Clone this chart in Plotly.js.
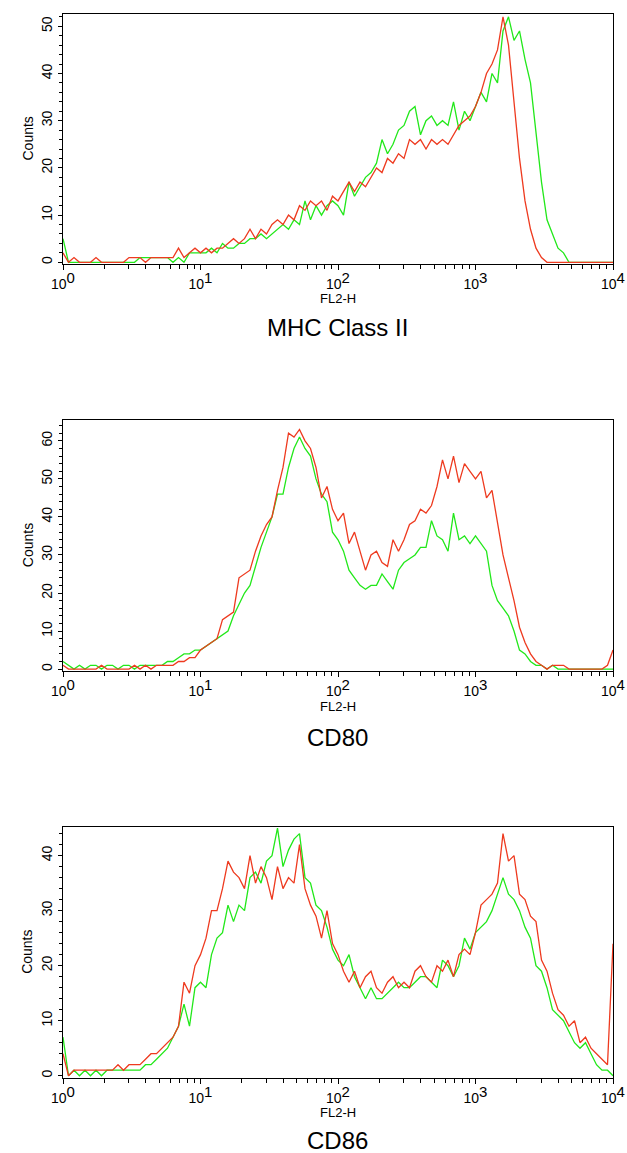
<!DOCTYPE html>
<html>
<head>
<meta charset="utf-8">
<script src="https://cdn.plot.ly/plotly-3.0.1.min.js"></script>
<style>
  html, body { margin: 0; padding: 0; background: #ffffff; }
  #chart { width: 627px; height: 1153px; }
</style>
</head>
<body>
<div id="chart"></div>
<script>
// FL2-H channel positions (log10 of fluorescence, decades 0..4)
const channelLog = [
  0,0.04,0.08,0.12,0.16,0.2,0.24,0.28,0.32,0.36,
  0.4,0.44,0.48,0.52,0.56,0.6,0.64,0.68,0.72,0.76,
  0.8,0.84,0.88,0.92,0.96,1,1.04,1.08,1.12,1.16,
  1.2,1.24,1.28,1.32,1.36,1.4,1.44,1.48,1.52,1.56,
  1.6,1.64,1.68,1.72,1.76,1.8,1.84,1.88,1.92,1.96,
  2,2.04,2.08,2.12,2.16,2.2,2.24,2.28,2.32,2.36,
  2.4,2.44,2.48,2.52,2.56,2.6,2.64,2.68,2.72,2.76,
  2.8,2.84,2.88,2.92,2.96,3,3.04,3.08,3.12,3.16,
  3.2,3.24,3.28,3.32,3.36,3.4,3.44,3.48,3.52,3.56,
  3.6,3.64,3.68,3.72,3.76,3.8,3.84,3.88,3.92,3.96,
  4
];

const panelTitles = ["MHC Class II", "CD80", "CD86"];
const xTickVals = [1, 10, 100, 1000, 10000];
const xTickExp = ["0", "1", "2", "3", "4"];
const xMinorVals = [2,3,4,5,6,7,8,9,20,30,40,50,60,70,80,90,200,300,400,500,600,700,800,900,2000,3000,4000,5000,6000,7000,8000,9000];

// MHC Class II
const mhcRed = [
  2,0,1,0,0,0,1,0,0,0,
  0,0,1,1,1,0,1,1,1,1,
  1,3,1,2,3,2,3,2,3,3,
  4,5,4,5,7,5,7,6,8,9,
  8,10,9,12,11,13,12,13,11,14,
  13,15,17,15,17,16,18,20,19,22,
  21,23,22,26,25,26,24,26,25,26,
  25,27,29,30,31,33,36,40,42,45,
  52,46,34,22,13,7,3,1,0,0,
  0,0,0,0,0,0,0,0,0,0,
  0
];
const mhcGreen = [
  5,0,0,0,0,0,0,0,0,0,
  0,0,0,0,1,1,1,1,1,1,
  0,1,0,2,2,2,2,3,2,4,
  3,3,4,4,5,5,6,5,6,7,
  8,7,9,8,13,9,12,10,12,13,
  12,10,17,14,16,18,19,21,26,23,
  25,28,29,32,33,27,30,31,29,30,
  29,34,28,32,30,33,36,34,40,38,
  49,52,47,49,43,38,28,17,9,6,
  3,2,0,0,0,0,0,0,0,0,
  0
];

// CD80
const cd80Red = [
  1,0,0,0,0,0,0,1,0,0,
  0,0,0,1,0,1,0,1,1,1,
  1,2,2,3,3,5,6,7,8,13,
  14,15,24,25,26,31,35,38,40,47,
  53,62,61,63,60,58,53,45,48,42,
  39,41,33,36,31,26,30,31,28,27,
  34,31,34,38,39,42,41,43,48,55,
  50,56,49,54,52,50,52,45,47,38,
  30,24,18,11,7,4,2,1,0,1,
  1,1,0,0,0,0,0,0,0,1,
  5
];
const cd80Green = [
  2,1,0,1,0,1,1,0,1,1,
  0,1,1,0,1,1,1,1,1,2,
  2,3,4,4,5,5,6,7,8,9,
  10,14,17,20,22,27,32,36,40,46,
  46,53,58,61,58,56,50,46,44,36,
  34,31,26,24,22,21,22,22,25,23,
  21,26,28,29,30,32,32,39,35,34,
  31,41,34,35,33,35,33,31,22,18,
  16,14,10,5,4,2,1,1,0,1,
  0,0,0,0,0,0,0,0,0,0,
  0
];

// CD86
const cd86Red = [
  4,0,1,1,1,1,1,1,1,1,
  2,1,2,2,2,3,4,4,5,6,
  7,9,17,15,20,22,25,30,30,34,
  39,37,36,34,40,35,38,36,32,38,
  34,36,35,42,34,31,29,25,30,24,
  22,19,17,19,16,18,19,16,15,17,
  18,16,17,16,19,20,18,17,20,19,
  21,18,22,23,22,26,31,32,33,35,
  44,39,40,33,32,29,28,21,19,15,
  12,11,9,10,6,7,5,4,3,2,
  24
];
const cd86Green = [
  7,0,1,0,1,0,1,0,1,1,
  1,1,1,1,1,2,2,3,4,5,
  7,9,13,9,16,17,16,22,25,26,
  31,28,31,30,36,37,35,39,40,45,
  38,41,43,44,36,35,31,30,27,23,
  21,20,22,18,16,14,16,14,14,15,
  16,17,16,16,17,18,18,17,16,21,
  20,18,20,25,23,26,27,28,30,33,
  36,33,32,30,27,25,20,19,16,12,
  11,10,8,6,5,6,4,2,1,1,
  0
];

const redSeries = [mhcRed, cd80Red, cd86Red];
const greenSeries = [mhcGreen, cd80Green, cd86Green];

// ---- layout helpers (pixel geometry of the page) ----
const W = 627, H = 1153;
const FONT = "Liberation Sans, Arial, Helvetica, sans-serif";
const RED = "#ee3a1f";
const GREEN = "#22e81a";
const py = p => 1 - p / H;
const px = p => p / W;

const xTickText = xTickExp.map(e => "10<sup><span style=\"font-size:15px\">" + e + "</span></sup>");

const plotLeft = 63, plotRight = 613;
const panels = [
  { top: 14,    bottom: 264,    yr: [-0.36, 52.6], titleY: 327.5, flY: 299 },
  { top: 420.3, bottom: 671,    yr: [-0.5, 65.4],  titleY: 737,   flY: 706 },
  { top: 827,   bottom: 1077.7, yr: [-0.36, 45.2], titleY: 1140,  flY: 1112.5 }
];

const xFL = channelLog.map(v => Math.pow(10, v));

const data = [];
const layout = {
  width: W, height: H,
  margin: { l: 0, r: 0, t: 0, b: 0, pad: 0 },
  paper_bgcolor: "#ffffff",
  plot_bgcolor: "#ffffff",
  showlegend: false,
  font: { family: FONT, color: "#000000", size: 14 },
  annotations: []
};

panels.forEach((p, k) => {
  const sfx = k === 0 ? "" : String(k + 1);
  const xa = "x" + sfx, ya = "y" + sfx;
  data.push({
    type: "scatter", mode: "lines", name: "Green",
    x: xFL, y: greenSeries[k], xaxis: xa, yaxis: ya,
    line: { color: GREEN, width: 1.3, shape: "linear" },
    hoverinfo: "skip"
  });
  data.push({
    type: "scatter", mode: "lines", name: "Red",
    x: xFL, y: redSeries[k], xaxis: xa, yaxis: ya,
    line: { color: RED, width: 1.3, shape: "linear" },
    hoverinfo: "skip"
  });

  layout["xaxis" + sfx] = {
    type: "log", range: [0, 4],
    domain: [px(plotLeft), px(plotRight)],
    anchor: ya,
    tickmode: "array", tickvals: xTickVals, ticktext: xTickText,
    ticks: "outside", ticklen: 5, tickwidth: 1, tickcolor: "#000",
    ticklabelstandoff: 2,
    tickfont: { family: FONT, size: 14, color: "#000" },
    minor: { tickmode: "array", tickvals: xMinorVals, ticks: "outside", ticklen: 4, tickwidth: 1, tickcolor: "#000", showgrid: false },
    showline: true, mirror: true, linecolor: "#000", linewidth: 1,
    showgrid: false, zeroline: false, fixedrange: true
  };
  layout["yaxis" + sfx] = {
    range: p.yr,
    domain: [py(p.bottom), py(p.top)],
    anchor: xa,
    tickmode: "linear", tick0: 0, dtick: 10,
    ticks: "outside", ticklen: 4, tickwidth: 1, tickcolor: "#000",
    tickangle: -90,
    tickfont: { family: FONT, size: 14, color: "#000" },
    minor: { tick0: 0, dtick: 2, ticks: "outside", ticklen: 3, tickwidth: 1, tickcolor: "#000", showgrid: false },
    showline: true, mirror: true, linecolor: "#000", linewidth: 1,
    showgrid: false, zeroline: false, fixedrange: true
  };

  layout.annotations.push({
    text: "Counts", xref: "paper", yref: "paper",
    x: px(27.5), y: py((p.top + p.bottom) / 2),
    xanchor: "center", yanchor: "middle", textangle: -90, showarrow: false,
    font: { family: FONT, size: 14, color: "#000" }
  });
  layout.annotations.push({
    text: "FL2-H", xref: "paper", yref: "paper",
    x: px(338), y: py(p.flY),
    xanchor: "center", yanchor: "middle", showarrow: false,
    font: { family: FONT, size: 13, color: "#000" }
  });
  layout.annotations.push({
    text: panelTitles[k], xref: "paper", yref: "paper",
    x: px(337), y: py(p.titleY),
    xanchor: "center", yanchor: "middle", showarrow: false,
    font: { family: FONT, size: 24, color: "#000" }
  });
});

Plotly.newPlot("chart", data, layout, { staticPlot: true, displayModeBar: false });
</script>
</body>
</html>
